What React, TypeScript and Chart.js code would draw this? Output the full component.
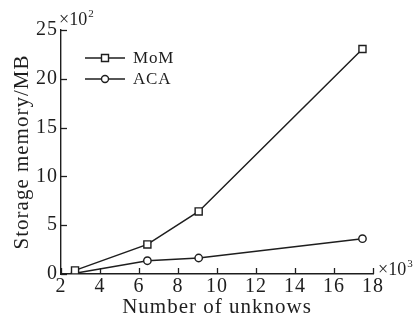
import React, { useEffect, useRef } from "react";
import { Chart, registerables } from "chart.js";

Chart.register(...registerables);

const xValues = [2.72, 6.43, 9.06, 17.46];
const momValues = [0.37, 3.03, 6.41, 23.05];
const acaValues = [0.08, 1.36, 1.64, 3.62];
const seriesLabels = ["MoM", "ACA"];
const seriesStyles = ["rect", "circle"];
const xTickValues = [2, 4, 6, 8, 10, 12, 14, 16, 18];
const yTickValues = [0, 5, 10, 15, 20, 25];
const xTitle = "Number of unknows";
const yTitle = "Storage memory/MB";
const xMultiplier = ["×10", "3"];
const yMultiplier = ["×10", "2"];

const FONT = "'Liberation Serif', 'Times New Roman', serif";
const INK = "#1e1e1e";

const spacing = {
  id: "spacing",
  beforeDraw(chart: any) {
    chart.ctx.letterSpacing = "1px";
  },
};

const inwardTicks = {
  id: "inwardTicks",
  afterDraw(chart: any) {
    const { ctx, chartArea, scales } = chart;
    ctx.save();
    ctx.strokeStyle = INK;
    ctx.lineWidth = 1.3;
    const len = 6;
    xTickValues.forEach((v) => {
      const px = Math.round(scales.x.getPixelForValue(v)) + 0.5;
      ctx.beginPath();
      ctx.moveTo(px, chartArea.bottom);
      ctx.lineTo(px, chartArea.bottom - len);
      ctx.stroke();
    });
    yTickValues.forEach((v) => {
      const py = Math.round(scales.y.getPixelForValue(v)) + 0.5;
      ctx.beginPath();
      ctx.moveTo(chartArea.left, py);
      ctx.lineTo(chartArea.left + len, py);
      ctx.stroke();
    });
    ctx.fillStyle = INK;
    ctx.textBaseline = "alphabetic";
    ctx.textAlign = "left";
    ctx.letterSpacing = "0px";
    const drawMult = (m: string[], x: number, y: number) => {
      ctx.font = `18px ${FONT}`;
      ctx.fillText(m[0], x, y);
      const w = ctx.measureText(m[0]).width;
      ctx.font = `11px ${FONT}`;
      ctx.fillText(m[1], x + w + 1, y - 8);
    };
    drawMult(yMultiplier, chartArea.left - 2, chartArea.top - 5);
    drawMult(xMultiplier, chartArea.right + 5, chartArea.bottom + 1);
    ctx.restore();
  },
};

const customLegend = {
  id: "customLegend",
  afterDraw(chart: any) {
    const { ctx, chartArea } = chart;
    ctx.save();
    ctx.strokeStyle = INK;
    ctx.fillStyle = INK;
    ctx.lineWidth = 1.4;
    ctx.letterSpacing = "0.8px";
    ctx.font = `17px ${FONT}`;
    ctx.textBaseline = "middle";
    ctx.textAlign = "left";
    chart.data.datasets.forEach((ds: any, i: number) => {
      const y = chartArea.top + 28 + i * 21;
      const x0 = chartArea.left + 24;
      const x1 = x0 + 40;
      const xm = (x0 + x1) / 2;
      ctx.beginPath();
      ctx.moveTo(x0, y);
      ctx.lineTo(x1, y);
      ctx.stroke();
      ctx.fillStyle = "#fff";
      ctx.beginPath();
      if (ds.pointStyle === "rect") {
        ctx.rect(xm - 3.5, y - 3.5, 7, 7);
      } else {
        ctx.arc(xm, y, 3.5, 0, Math.PI * 2);
      }
      ctx.fill();
      ctx.stroke();
      ctx.fillStyle = INK;
      ctx.fillText(ds.label, x1 + 8, y + 1);
    });
    ctx.restore();
  },
};

export default function App() {
  const ref = useRef<HTMLCanvasElement | null>(null);
  useEffect(() => {
    document.body.style.margin = "0";
    const canvas = ref.current!;
    const mk = (vals: number[], i: number) => ({
      label: seriesLabels[i],
      data: xValues.map((x, k) => ({ x, y: vals[k] })),
      borderColor: INK,
      borderWidth: 1.5,
      pointStyle: seriesStyles[i],
      pointRadius: seriesStyles[i] === "rect" ? 5 : 3.7,
      pointBorderWidth: 1.4,
      pointBorderColor: INK,
      pointBackgroundColor: "#fff",
      fill: false,
      tension: 0,
    });
    const chart = new Chart(canvas, {
      type: "line",
      data: { datasets: [mk(momValues, 0), mk(acaValues, 1)] },
      options: {
        animation: false,
        responsive: false,
        maintainAspectRatio: false,
        layout: { padding: { top: 30, right: 45, left: 0, bottom: 0 } },
        plugins: { legend: { display: false }, tooltip: { enabled: false } },
        scales: {
          x: {
            type: "linear",
            min: 2,
            max: 18,
            afterBuildTicks: (s: any) => {
              s.ticks = xTickValues.map((v) => ({ value: v }));
            },
            afterFit: (s: any) => {
              s.height = 47;
            },
            grid: { display: false, drawTicks: false },
            border: { display: true, color: INK, width: 1.4 },
            ticks: { color: INK, font: { family: FONT, size: 20 }, padding: 1, maxRotation: 0, autoSkip: false },
            title: { display: true, text: xTitle, color: INK, font: { family: FONT, size: 21 }, padding: { top: 0, bottom: 1 } },
          },
          y: {
            type: "linear",
            min: 0,
            max: 25,
            afterBuildTicks: (s: any) => {
              s.ticks = yTickValues.map((v) => ({ value: v }));
            },
            afterFit: (s: any) => {
              s.width = 61;
            },
            grid: { display: false, drawTicks: false },
            border: { display: true, color: INK, width: 1.4 },
            ticks: { color: INK, font: { family: FONT, size: 20 }, padding: 3, autoSkip: false },
            title: { display: true, text: yTitle, color: INK, font: { family: FONT, size: 21 }, padding: { top: 10, bottom: 0 } },
          },
        },
      },
      plugins: [spacing, inwardTicks, customLegend],
    } as any);
    return () => chart.destroy();
  }, []);
  return (
    <div style={{ position: "absolute", left: 0, top: 0, width: 418, height: 321, background: "#fff" }}>
      <canvas ref={ref} width={418} height={321} style={{ width: 418, height: 321 }} />
    </div>
  );
}
